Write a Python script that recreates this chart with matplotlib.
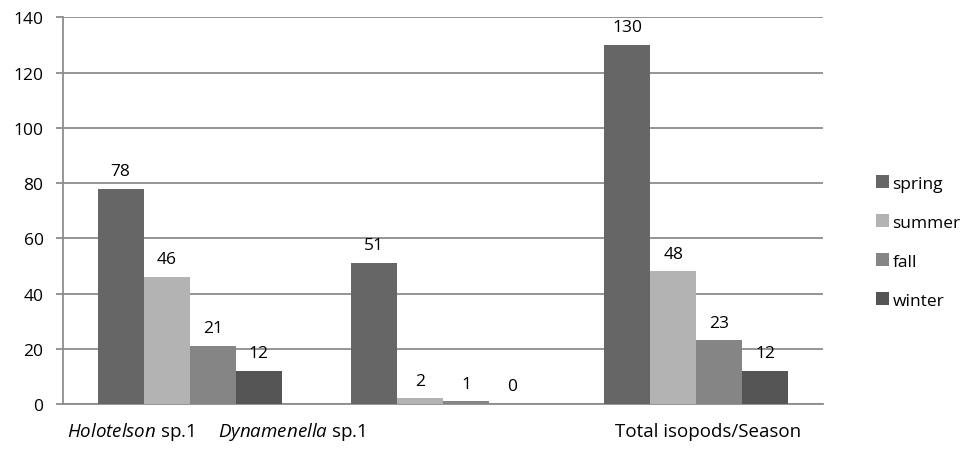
import numpy as np
import matplotlib.pyplot as plt

plt.rcParams['font.family'] = ['Open Sans', 'DejaVu Sans']
plt.rcParams['mathtext.fontset'] = 'custom'
plt.rcParams['mathtext.rm'] = 'Open Sans'
plt.rcParams['mathtext.it'] = 'Open Sans:italic'

# Données
categories = [r"$\it{Holotelson}$ sp.1", r"$\it{Dynamenella}$ sp.1", "Total isopods/Season"]
seasons = ["spring", "summer", "fall", "winter"]
spring = [78, 51, 130]
summer = [46, 2, 48]
fall = [21, 1, 23]
winter = [12, 0, 12]
colors = ["#666666", "#b3b3b3", "#858585", "#555555"]
yticks = [0, 20, 40, 60, 80, 100, 120, 140]

# Positions des étiquettes de catégories (coord. données)
label_x = [-0.485, 0.11, 1.68]

fs = 12.5
fig = plt.figure(figsize=(9.7, 4.6), dpi=100)
ax = fig.add_axes([0.065, 0.1196, 0.7835, 0.8402])

x = np.arange(len(categories))
w = 1 / 5.5
series = [spring, summer, fall, winter]
for i, (vals, name, c) in enumerate(zip(series, seasons, colors)):
    xs = x + (i - 1.5) * w
    ax.bar(xs, vals, width=w, color=c, label=name, zorder=3)
    for xv, v in zip(xs, vals):
        ax.annotate(str(v), (xv, v), xytext=(0, 7), textcoords="offset points",
                    ha="center", va="bottom", fontsize=fs)

ax.set_xlim(-0.5, 2.5)
ax.set_ylim(0, 140)
ax.set_yticks(yticks)
ax.set_xticks([])
ax.grid(axis="y", color="#8c8c8c", linewidth=1.3, zorder=0)
for s in ["top", "right"]:
    ax.spines[s].set_visible(False)
ax.spines["left"].set_color("#8c8c8c")
ax.spines["left"].set_linewidth(1.3)
ax.spines["bottom"].set_color("#8c8c8c")
ax.spines["bottom"].set_linewidth(1.3)
ax.tick_params(axis="y", length=5, width=1.3, color="#8c8c8c", labelsize=fs, pad=9)

for lx, lab in zip(label_x, categories):
    ax.text(lx, -0.07, lab, transform=ax.get_xaxis_transform(), ha="left", va="center",
            fontsize=13.5)

fig.legend(loc="center left", bbox_to_anchor=(0.903, 0.472), frameon=False, fontsize=fs,
           handlelength=0.75, handleheight=0.75, handletextpad=0.2, labelspacing=1.3,
           borderpad=0, borderaxespad=0)

fig.savefig("out.png", dpi=100)
